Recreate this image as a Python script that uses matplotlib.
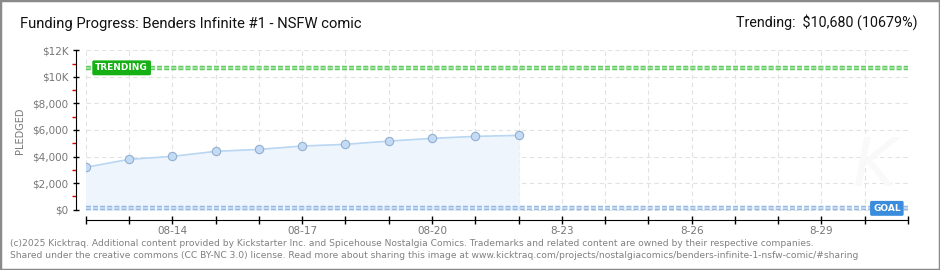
import matplotlib
matplotlib.use('Agg')
import matplotlib.pyplot as plt
import matplotlib.dates as mdates
from matplotlib.patches import Rectangle
import numpy as np

# Datos
fechas = np.arange('2025-08-12', '2025-08-23', dtype='datetime64[D]')
pledged = [3190, 3790, 4015, 4390, 4540, 4790, 4920, 5165, 5370, 5520, 5595]
trending = 10680
goal = 100
x_inicio = np.datetime64('2025-08-12')
x_fin = np.datetime64('2025-08-31')
etiquetas_x = ['08-14', '08-17', '08-20', '8-23', '8-26', '8-29']
fechas_etiquetas = np.array(['2025-08-14', '2025-08-17', '2025-08-20',
                             '2025-08-23', '2025-08-26', '2025-08-29'], dtype='datetime64[D]')
valores_y = [0, 2000, 4000, 6000, 8000, 10000, 12000]
etiquetas_y = ['$0', '$2,000', '$4,000', '$6,000', '$8,000', '$10K', '$12K']

gris = '#777777'

fig = plt.figure(figsize=(9.4, 2.7), dpi=100)
fig.patches.append(Rectangle((0, 0), 1, 1, transform=fig.transFigure,
                             fill=False, edgecolor='#8a8a8a', linewidth=2.5))

ax = fig.add_axes([0.0912, 0.2185, 0.8748, 0.5952])

fx = fechas.astype('datetime64[ms]').astype(object)
ax.fill_between(fx, pledged, 0, color='#eef5fd', zorder=1)
ax.plot(fx, pledged, color='#b9d6f3', linewidth=1.2, zorder=3)
ax.plot(fx, pledged, linestyle='none', marker='o', markersize=6,
        markerfacecolor='#c4dbf5', markeredgecolor='#94aecf', markeredgewidth=0.8, zorder=4)

# lineas de trending y meta
ax.axhline(trending, color='#5cc85c', linewidth=3.2, dashes=(1.1, 0.5), zorder=2)
ax.axhline(trending, color='#9be39b', linewidth=1.6, dashes=(2.2, 1.0), zorder=2)
ax.axhline(goal, color='#8fb4e0', linewidth=3.2, dashes=(1.1, 0.5), zorder=2)
ax.axhline(goal, color='#c3d9f3', linewidth=1.6, dashes=(2.2, 1.0), zorder=2)

x0 = mdates.date2num(x_inicio.astype(object))
x1 = mdates.date2num(x_fin.astype(object))
ax.set_xlim(x0, x1)
ax.set_ylim(-100, 12000)

ax.text(x0 + 0.22, trending, 'TRENDING', color='white', fontsize=6.5, fontweight='bold',
        va='center', ha='left', zorder=6,
        bbox=dict(boxstyle='round,pad=0.25,rounding_size=0.1', facecolor='#14b014', edgecolor='#14b014'))
ax.text(x1 - 0.17, goal, 'GOAL', color='white', fontsize=6.5, fontweight='bold',
        va='center', ha='right', zorder=6,
        bbox=dict(boxstyle='round,pad=0.25,rounding_size=0.1', facecolor='#3a8ddc', edgecolor='#3a8ddc'))

# ejes
for s in ['top', 'right']:
    ax.spines[s].set_visible(False)
ax.spines['left'].set_position(('outward', 7))
ax.spines['bottom'].set_position(('outward', 6.5))
ax.spines['left'].set_bounds(0, 12000)

ax.set_yticks(valores_y)
ax.set_yticklabels(etiquetas_y)
ax.set_yticks(np.arange(1000, 12000, 2000), minor=True)
ax.tick_params(axis='y', which='major', direction='inout', length=5, width=1,
               labelsize=7.5, labelcolor=gris, pad=3)
ax.tick_params(axis='y', which='minor', direction='out', length=3, width=1, color='#dd0000')

ax.set_xticks(mdates.date2num(fechas_etiquetas.astype(object)))
ax.set_xticklabels(etiquetas_x)
dias = np.arange(x_inicio, x_fin + 1, dtype='datetime64[D]')
ax.set_xticks(mdates.date2num(dias.astype(object)), minor=True)
ax.tick_params(axis='x', which='both', direction='inout', length=6, width=1,
               labelsize=7.5, labelcolor=gris, pad=1)

ax.grid(True, which='major', axis='y', color='#e2e2e2', linestyle=(0, (4, 3)), linewidth=0.8, zorder=0)
ax.grid(True, which='both', axis='x', color='#e2e2e2', linestyle=(0, (4, 3)), linewidth=0.8, zorder=0)
ax.set_axisbelow(True)

ax.set_ylabel('PLEDGED', fontsize=7, color=gris, labelpad=5)

# marca de agua
fig.text(0.93, 0.38, 'K', fontsize=48, color='#f9f9f9', style='italic', ha='center', va='center', zorder=0)

# textos
fig.text(20 / 940, 1 - 24 / 270, 'Funding Progress: Benders Infinite #1 - NSFW comic',
         fontsize=10.6, color='#111111', va='center', ha='left', family='Roboto')
fig.text(917 / 940, 1 - 22 / 270, 'Trending:  \\$10,680 (10679%)',
         fontsize=10.3, color='#111111', va='center', ha='right', family='Roboto')
fig.text(10 / 940, 1 - 243 / 270,
         '(c)2025 Kicktraq. Additional content provided by Kickstarter Inc. and Spicehouse Nostalgia Comics. '
         'Trademarks and related content are owned by their respective companies.',
         fontsize=6.6, color='#808080', va='center', ha='left')
fig.text(10 / 940, 1 - 255 / 270,
         'Shared under the creative commons (CC BY-NC 3.0) license. Read more about sharing this image at '
         'www.kicktraq.com/projects/nostalgiacomics/benders-infinite-1-nsfw-comic/#sharing',
         fontsize=6.6, color='#808080', va='center', ha='left')

fig.savefig('out.png', dpi=100)
